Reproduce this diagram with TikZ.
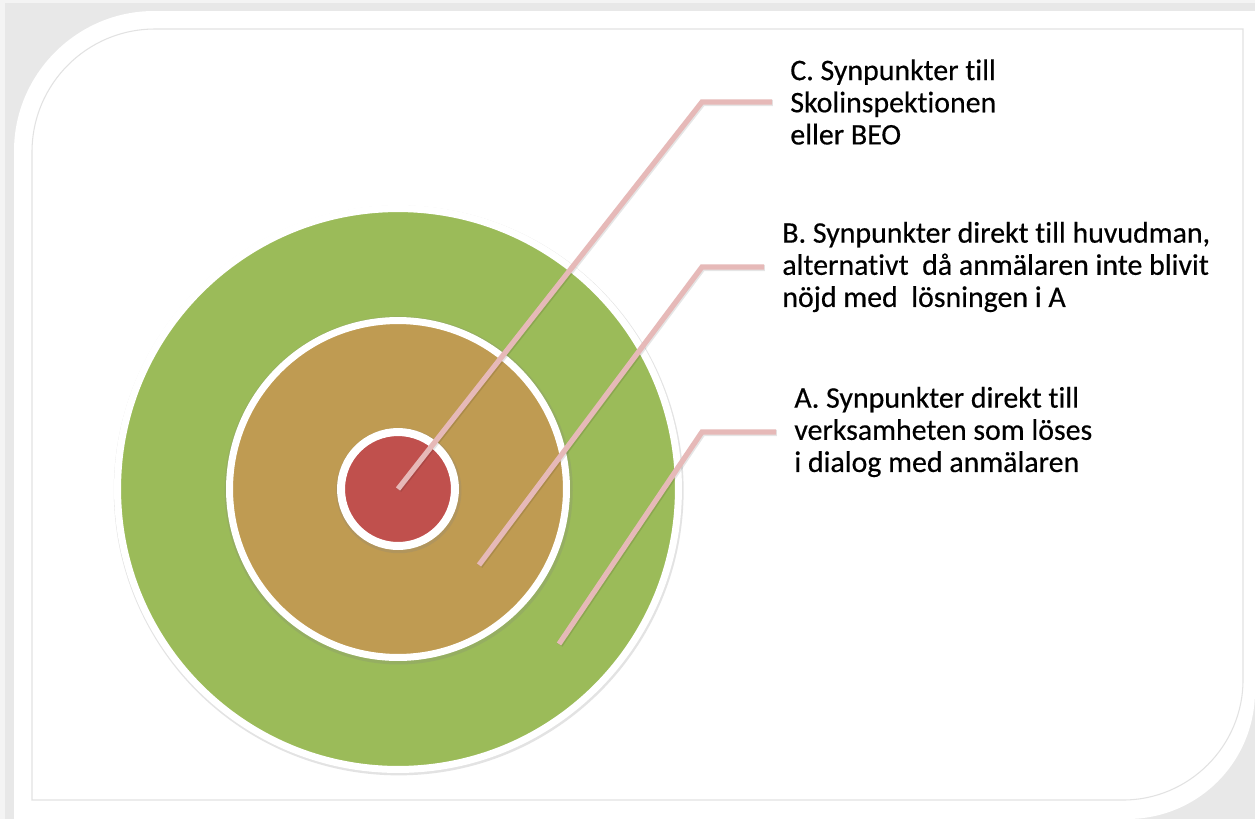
\documentclass[tikz,border=0pt]{standalone}
\usepackage{fontspec}
\setmainfont{Carlito}[Ligatures=NoCommon]
\usepackage{tikz}
\usetikzlibrary{positioning,shadows}
\definecolor{ringGreen}{HTML}{9BBB59}
\definecolor{ringTan}{HTML}{BF9B52}
\definecolor{ringRed}{HTML}{C0504D}
\definecolor{leaderPink}{HTML}{E6B9B8}
\definecolor{frameLine}{HTML}{E2E2E2}

\begin{document}
\begin{tikzpicture}[
    x=0.02cm, y=-0.02cm,
    disk/.style={circle, draw=white, inner sep=0pt,
      drop shadow={opacity=0.22, shadow xshift=0.4pt, shadow yshift=-0.8pt, shadow scale=#1}},
    leader/.style={draw=leaderPink, line width=3pt},
    leadershade/.style={draw=black, opacity=0.1, line width=3.4pt},
    note/.style={anchor=west, align=left, inner xsep=0.36cm, inner ysep=0pt,
      font=\fontsize{17}{18.3}\selectfont\addfontfeature{FakeBold=0.4}, text=black}
  ]
  \useasboundingbox (0,0) rectangle (1255,819);

  % Frame
  \fill[gray!18] (0,0) rectangle (1255,819);
  \fill[gray!9] (0,0) rectangle (1255,3);
  \fill[gray!9] (0,0) rectangle (5,819);
  \fill[white] (14,819) -- (14,151) .. controls (14,74) and (77,11) .. (154,11)
    -- (1255,11) -- (1255,691) .. controls (1255,762) and (1198,819) .. (1127,819) -- cycle;
  \draw[frameLine, line width=0.6pt] (32,800) -- (32,152) .. controls (32,84) and (87,29) .. (155,29)
    -- (1243,29) -- (1243,680) .. controls (1243,746) and (1189,800) .. (1123,800) -- cycle;

  % Rings
  \node[disk=1.016, fill=ringGreen, line width=0.14cm, minimum size=11.22cm] (outer) at (398,489) {};
  \node[disk=1.033, fill=ringTan, line width=0.14cm, minimum size=6.74cm] (middle) at (398,489) {};
  \node[disk=1.10, fill=ringRed, line width=0.16cm, minimum size=2.28cm] (inner) at (398,489) {};

  % Labels
  \node[note] (tC) at (772,102) {C. Synpunkter till\\Skolinspektionen\\eller BEO};
  \node[note] (tB) at (764,267) {B. Synpunkter direkt till huvudman,\\alternativt\ \ då anmälaren inte blivit\\nöjd med\ \ lösningen i A};
  \node[note] (tA) at (776,432) {A. Synpunkter direkt till\\verksamheten som löses\\i dialog med anmälaren};

  \coordinate (kx) at (702,0);
  \coordinate (pB) at (479,565);
  \coordinate (pA) at (559,644);

  \foreach \p/\t in {inner.center/tC, pB/tB, pA/tA} {
    \draw[leadershade, transform canvas={xshift=0.5pt, yshift=-0.6pt}] (\p) -- (\t.west -| kx) -- (\t.west);
    \draw[leader] (\p) -- (\t.west -| kx) -- (\t.west);
  }
\end{tikzpicture}
\end{document}
